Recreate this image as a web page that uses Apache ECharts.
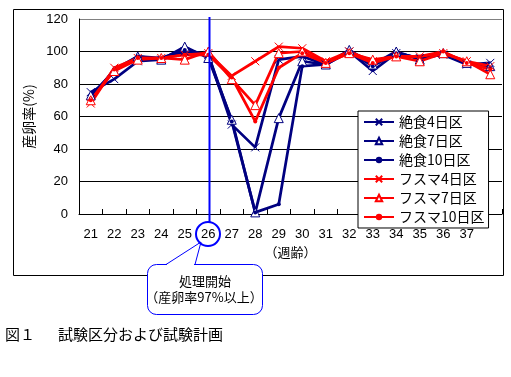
<!DOCTYPE html>
<html>
<head>
<meta charset="utf-8">
<script src="https://cdn.jsdelivr.net/npm/echarts@6/dist/echarts.min.js"></script>
<style>
  html, body { margin: 0; padding: 0; background: #fff; }
  #chart { width: 511px; height: 377px; }
</style>
</head>
<body>
<div id="chart"></div>
<script>
  // 週齢（最後の点はラベルなし）
  var weeks = ['21','22','23','24','25','26','27','28','29','30','31','32','33','34','35','36','37',''];
  // 産卵率(%)
  var fast4  = [75, 83, 94, 95, 100, 98, 55, 41, 95, 97, 92, 100, 88, 99, 96, 98, 92, 93];
  var fast7  = [73, 88, 97, 95, 103, 96, 58,  1, 59, 94, 92, 101, 92, 100, 95, 99, 93, 91];
  var fast10 = [71, 89, 97, 96, 101, 98, 57,  1,  6, 91, 92, 100, 91, 99, 96, 98, 93, 90];
  var bran4  = [68, 90, 96, 96,  98, 99, 85, 94, 103, 102, 94, 100, 94, 97, 97, 99, 94, 91];
  var bran7  = [70, 88, 95, 96,  95, 100, 83, 67, 99, 100, 93, 99, 95, 97, 94, 99, 94, 86];
  var bran10 = [70, 89, 96, 96,  98, 98, 84, 57, 90, 99, 93, 99, 93, 97, 97, 100, 93, 89];
  var startWeek = '26';

  var NAVY = '#000080', RED = '#ff0000', BLUE = '#0000ff';
  var CROSS = 'path://M0,0L10,10M10,0L0,10';
  var jp = '"Noto Sans CJK JP", sans-serif';

  function mk(name, data, color, kind) {
    var s = {
      name: name,
      type: 'line',
      data: data,
      showAllSymbol: true,
      lineStyle: { color: color, width: 2.75 },
      emphasis: { disabled: true }
    };
    if (kind === 'x') {
      s.symbol = CROSS; s.symbolSize = 8;
      s.itemStyle = { color: color, borderColor: color, borderWidth: 1 };
    } else if (kind === 'tri') {
      s.symbol = 'triangle'; s.symbolSize = 9;
      s.itemStyle = { color: '#fff', borderColor: color, borderWidth: 1 };
    } else {
      s.symbol = 'circle'; s.symbolSize = 4;
      s.itemStyle = { color: color, borderColor: color, borderWidth: 0 };
    }
    return s;
  }

  var chart = echarts.init(document.getElementById('chart'));
  chart.setOption({
    animation: false,
    backgroundColor: '#fff',
    grid: { left: 79, right: 9, top: 19, bottom: 163 },
    legend: {
      orient: 'vertical',
      left: 358, top: 111,
      padding: [4, 4, 4, 5],
      itemGap: 5,
      itemWidth: 30, itemHeight: 8,
      backgroundColor: '#fff',
      borderColor: '#000', borderWidth: 1, borderRadius: 0,
      textStyle: { fontFamily: jp, fontSize: 14, color: '#000' },
      selectedMode: false
    },
    xAxis: {
      type: 'category',
      data: weeks,
      boundaryGap: true,
      name: '（週齢）',
      nameLocation: 'middle',
      nameGap: 31,
      nameTextStyle: { fontFamily: jp, fontSize: 13, color: '#000' },
      axisLine: { lineStyle: { color: '#000', width: 1 } },
      axisTick: { show: true, inside: true, length: 5, interval: 0, lineStyle: { color: '#000' } },
      axisLabel: { interval: 0, margin: 14, fontFamily: 'Liberation Sans, Arial', fontSize: 13, color: '#000' },
      splitLine: { show: false }
    },
    yAxis: {
      type: 'value',
      min: 0, max: 120, interval: 20,
      name: '産卵率(%)',
      nameLocation: 'middle',
      nameGap: 43,
      nameRotate: 90,
      nameTextStyle: { fontFamily: jp, fontSize: 14, color: '#000' },
      axisLine: { show: true, lineStyle: { color: '#000', width: 1 } },
      axisTick: { show: false },
      axisLabel: { margin: 11, fontFamily: 'Liberation Sans, Arial', fontSize: 13, color: '#000' },
      splitLine: { show: true, lineStyle: { color: ['#000','#000','#000','#000','#000','#000','#808080'], width: 1 } }
    },
    series: [
      mk('絶食4日区', fast4, NAVY, 'x'),
      mk('絶食7日区', fast7, NAVY, 'tri'),
      mk('絶食10日区', fast10, NAVY, 'dot'),
      mk('フスマ4日区', bran4, RED, 'x'),
      mk('フスマ7日区', bran7, RED, 'tri'),
      mk('フスマ10日区', bran10, RED, 'dot')
    ]
  });

  // 処理開始の注記
  var x26 = Math.round(chart.convertToPixel({ xAxisIndex: 0 }, startWeek)) + 1.5;
  var yTop = chart.convertToPixel({ yAxisIndex: 0 }, 120) - 2;
  chart.setOption({
    graphic: [
      { type: 'rect', z: -10, silent: true,
        shape: { x: 13.5, y: 9.5, width: 490, height: 266 },
        style: { fill: 'none', stroke: '#000', lineWidth: 1 } },
      { type: 'line', z: 100, silent: true,
        shape: { x1: x26, y1: yTop, x2: x26, y2: 222 },
        style: { stroke: BLUE, lineWidth: 2 } },
      { type: 'circle', z: 100, silent: true,
        shape: { cx: x26 - 1.5, cy: 234, r: 12 },
        style: { fill: 'none', stroke: BLUE, lineWidth: 2 } },
      { type: 'rect', z: 100, silent: true,
        shape: { x: 147.5, y: 264.5, width: 115, height: 50, r: 9 },
        style: { fill: '#fff', stroke: BLUE, lineWidth: 1 } },
      { type: 'line', z: 101, silent: true,
        shape: { x1: 167, y1: 264.5, x2: 194, y2: 264.5 },
        style: { stroke: '#fff', lineWidth: 2 } },
      { type: 'polyline', z: 101, silent: true,
        shape: { points: [[166, 264.5], [201, 242], [195, 264.5]] },
        style: { fill: 'none', stroke: BLUE, lineWidth: 1 } },
      { type: 'text', z: 102, silent: true,
        style: { x: 205, y: 281, text: '処理開始', fill: '#000', font: '13px ' + jp, align: 'center', verticalAlign: 'middle' } },
      { type: 'text', z: 102, silent: true,
        style: { x: 204, y: 297, text: '（産卵率97%以上）', fill: '#000', font: '13px ' + jp, align: 'center', verticalAlign: 'middle' } },
      { type: 'text', z: 102, silent: true,
        style: { x: 5, y: 334, text: '図１', fill: '#000', font: '15px ' + jp, align: 'left', verticalAlign: 'middle' } },
      { type: 'text', z: 102, silent: true,
        style: { x: 58, y: 334, text: '試験区分および試験計画', fill: '#000', font: '15px ' + jp, align: 'left', verticalAlign: 'middle' } }
    ]
  });
</script>
</body>
</html>
